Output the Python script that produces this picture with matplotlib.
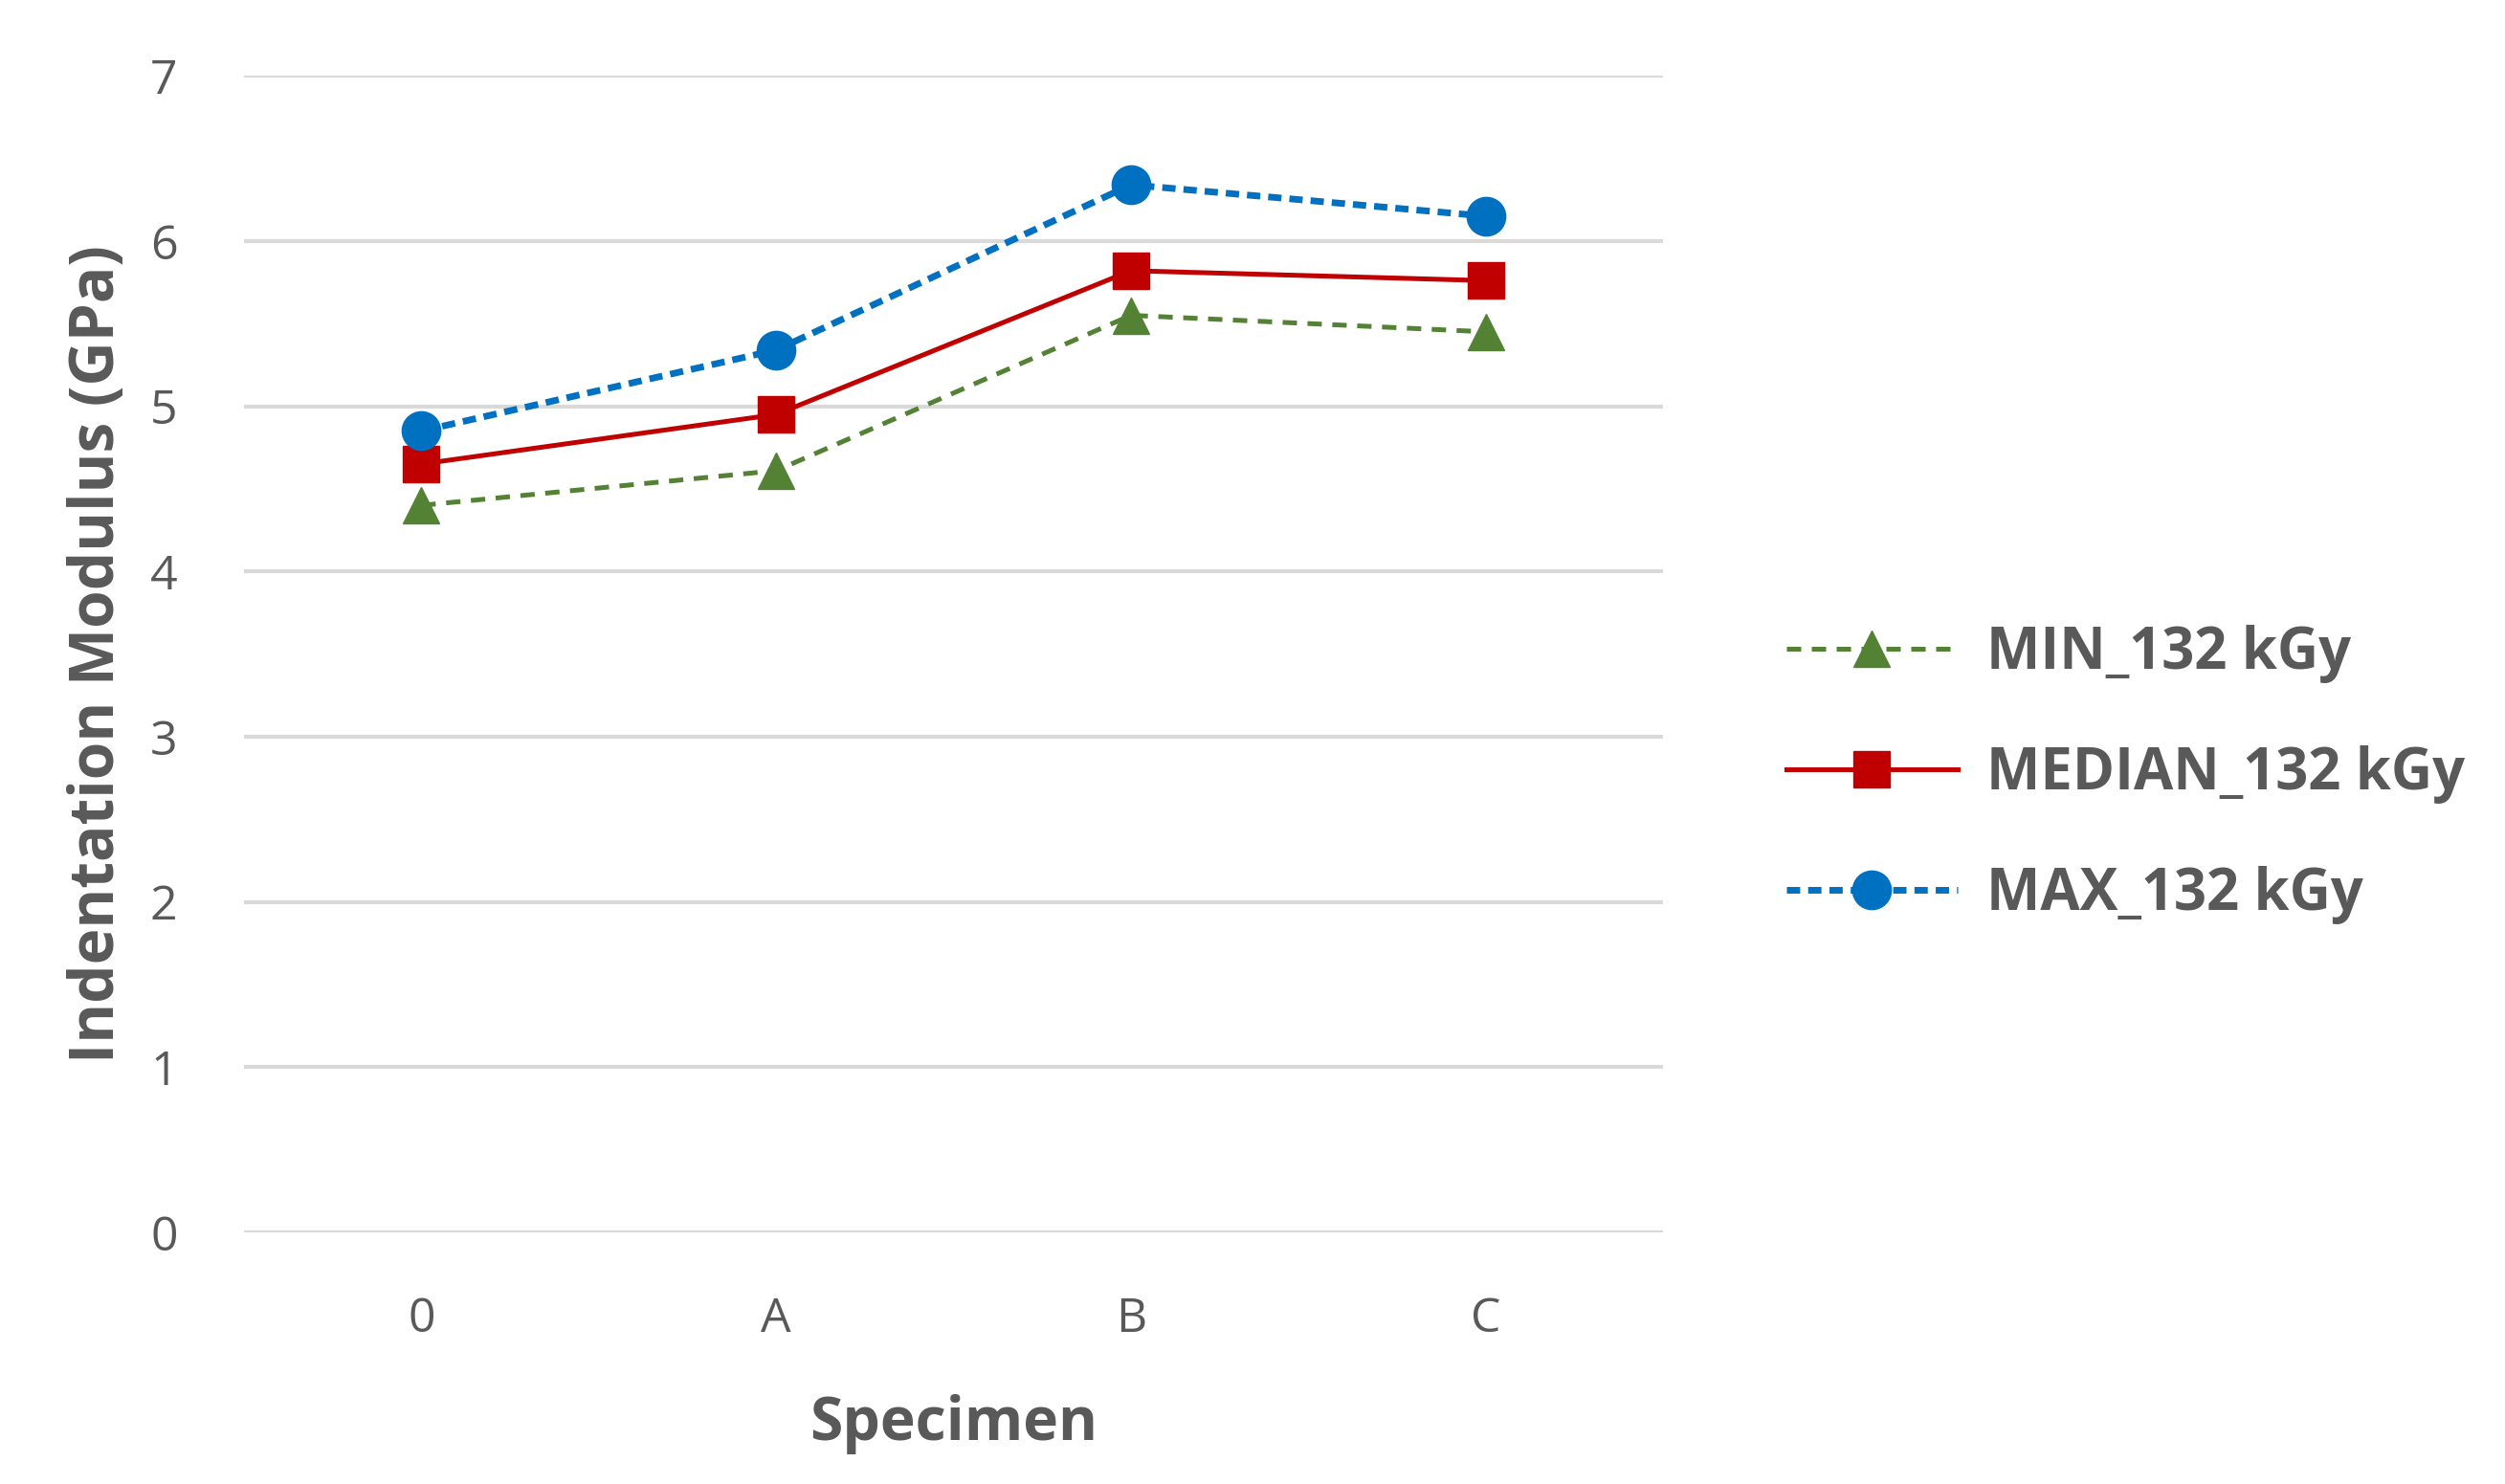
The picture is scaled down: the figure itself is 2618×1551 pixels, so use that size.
import numpy as np
import matplotlib.pyplot as plt

specimens = ['0', 'A', 'B', 'C']
min_vals = [4.40, 4.61, 5.55, 5.45]
median_vals = [4.65, 4.95, 5.82, 5.76]
max_vals = [4.85, 5.34, 6.34, 6.15]
yticks = [0, 1, 2, 3, 4, 5, 6, 7]

txt = '#595959'
plt.rcParams['font.family'] = ['Open Sans', 'DejaVu Sans']

fig = plt.figure(figsize=(26.18, 15.51), dpi=100)
ax = fig.add_axes([0.0974, 0.1695, 0.5666, 0.7795])

x = np.arange(len(specimens))
ax.plot(x, min_vals, color='#548235', lw=3.6, ls=(0, (3, 2.2)),
        marker='^', ms=27, label='MIN_132 kGy', zorder=3)
ax.plot(x, median_vals, color='#C00000', lw=3.6, ls='-',
        marker='s', ms=27, label='MEDIAN_132 kGy', zorder=4)
ax.plot(x, max_vals, color='#0070C0', lw=5.0, ls=(0, (2.0, 1.2)),
        marker='o', ms=29, label='MAX_132 kGy', zorder=5)

ax.set_xlim(-0.5, 3.5)
ax.set_ylim(0, 7)
ax.set_yticks(yticks)
ax.set_xticks(x)
ax.set_xticklabels(specimens)
ax.grid(axis='y', color='#D9D9D9', lw=3)
ax.set_axisbelow(True)
for s in ax.spines.values():
    s.set_visible(False)
ax.tick_params(length=0, labelsize=36, labelcolor=txt, pad=50)
ax.tick_params(axis='x', pad=48)

ax.set_ylabel('Indentation Modulus (GPa)', fontsize=46, fontweight='bold',
              color=txt, labelpad=16)
ax.set_xlabel('Specimen', fontsize=45, fontweight='bold', color=txt,
              labelpad=38)

fig.legend(loc='center left', bbox_to_anchor=(0.713, 0.478), frameon=False,
           prop={'size': 43, 'weight': 'bold'}, labelcolor=txt,
           handlelength=3.0, handletextpad=0.5, labelspacing=1.09,
           borderpad=0, borderaxespad=0)

fig.savefig('out.png', dpi=100, facecolor='white')
